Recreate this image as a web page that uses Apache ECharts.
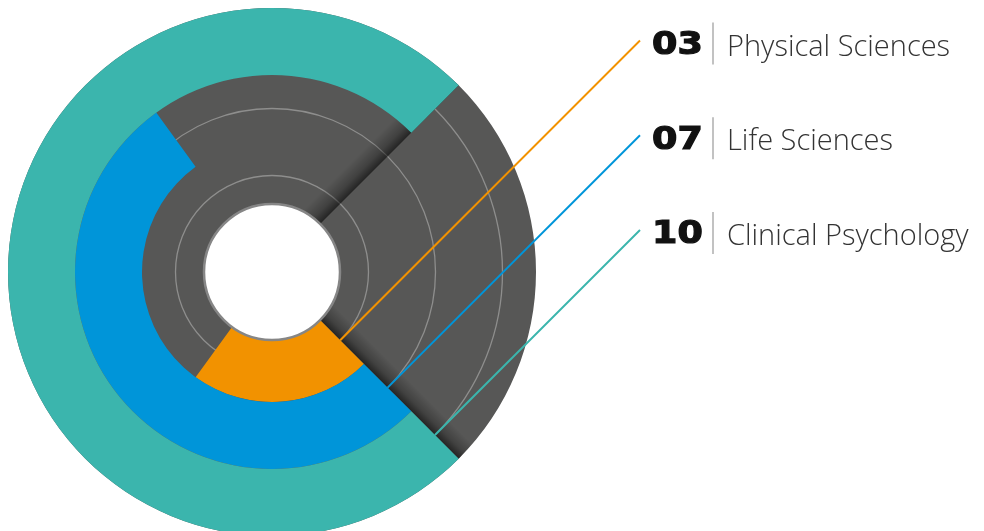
<!DOCTYPE html>
<html><head><meta charset="utf-8">
<script src="https://cdn.jsdelivr.net/npm/echarts@6/dist/echarts.min.js"></script>
<style>html,body{margin:0;padding:0;background:#fff}#c{width:984px;height:531px}</style>
</head><body><div id="c"></div>
<script>
const categories = ['Physical Sciences', 'Life Sciences', 'Clinical Psychology'];
const values = [3, 7, 10];
const numberLabels = ['03', '07', '10'];
const barColors = ['#F29200', '#0095D9', '#3BB5AD'];
const angleMax = 40 / 3;

const GRAY = '#575756';
const HOLE_R = 68;
const LABEL_X = 640;
const chart = echarts.init(document.getElementById('c'), null, {renderer: 'canvas'});

function unit(cx, cy, p) {
  const dx = p[0] - cx, dy = p[1] - cy, L = Math.hypot(dx, dy);
  return [dx / L, dy / L];
}
function strip(cs, u, n, w) {
  const R = cs.r, r0 = cs.r0, cx = cs.cx, cy = cs.cy;
  const rOff = Math.sqrt(R * R - w * w) - 0.5;
  const pts = [
    [cx + u[0] * r0, cy + u[1] * r0],
    [cx + u[0] * R, cy + u[1] * R],
    [cx + u[0] * rOff + n[0] * w, cy + u[1] * rOff + n[1] * w],
    [cx + u[0] * r0 + n[0] * w, cy + u[1] * r0 + n[1] * w]
  ];
  return {
    type: 'polygon', shape: {points: pts},
    style: {fill: new echarts.graphic.LinearGradient(pts[0][0], pts[0][1], pts[3][0], pts[3][1], [
      {offset: 0, color: 'rgba(0,0,0,0.58)'},
      {offset: 0.4, color: 'rgba(0,0,0,0.25)'},
      {offset: 1, color: 'rgba(0,0,0,0)'}], true)}
  };
}

function renderDisc(params, api) {
  const cs = params.coordSys;
  return {type: 'ring', shape: {cx: cs.cx, cy: cs.cy, r: cs.r, r0: cs.r0},
    style: {fill: GRAY}};
}
function renderCircles(params, api) {
  const cs = params.coordSys;
  const p = api.coord([api.value(0), 0]);
  const r = Math.hypot(p[0] - cs.cx, p[1] - cs.cy);
  return {type: 'circle', shape: {cx: cs.cx, cy: cs.cy, r: r},
    style: {fill: 'none', stroke: '#8e8e8d', lineWidth: 1.3}};
}
function renderShadows(params, api) {
  const cs = params.coordSys;
  const maxV = Math.max.apply(null, values);
  const uA = unit(cs.cx, cs.cy, api.coord([0, 0]));
  const uB = unit(cs.cx, cs.cy, api.coord([0, maxV]));
  return {type: 'group', children: [
    strip(cs, uA, [uA[1], -uA[0]], 20),
    strip(cs, uB, [uB[1], -uB[0]], 22)
  ]};
}
function renderHole(params, api) {
  const cs = params.coordSys;
  return {type: 'circle', shape: {cx: cs.cx, cy: cs.cy, r: HOLE_R},
    style: {fill: '#ffffff', stroke: '#868686', lineWidth: 2.5}};
}
function renderLabels(params, api) {
  const cs = params.coordSys, i = params.dataIndex;
  const p = api.coord([i, 0]);
  const u = unit(cs.cx, cs.cy, p);
  const n = [u[1], -u[0]];
  const t = (LABEL_X - p[0]) / n[0];
  const e = [p[0] + n[0] * t, p[1] + n[1] * t];
  return {type: 'group', children: [
    {type: 'line', shape: {x1: p[0], y1: p[1], x2: e[0], y2: e[1]},
      style: {stroke: barColors[i], lineWidth: 2}},
    {type: 'text', x: e[0] + 12, y: e[1] + 5, scaleX: 1.14,
      style: {text: numberLabels[i], fill: '#111', stroke: '#111', lineWidth: 1.2,
        fontSize: 32, fontWeight: 'bold',
        fontFamily: 'DejaVu Sans', align: 'left', verticalAlign: 'middle'}},
    {type: 'line', shape: {x1: e[0] + 73, y1: e[1] - 18, x2: e[0] + 73, y2: e[1] + 24},
      style: {stroke: '#c2c2c2', lineWidth: 2}},
    {type: 'text', x: e[0] + 87, y: e[1] + 7,
      style: {text: categories[i], fill: '#333', fontSize: 29, fontWeight: 300,
        fontFamily: 'Open Sans', align: 'left', verticalAlign: 'middle'}}
  ]};
}

const catData = categories.map((c, i) => [i, 0]);
chart.setOption({
  animation: false,
  polar: {center: [272, 272], radius: [63, 264]},
  angleAxis: {type: 'value', min: 0, max: angleMax, startAngle: -45, clockwise: true, show: false},
  radiusAxis: {type: 'category', data: categories, show: false},
  series: [
    {type: 'custom', coordinateSystem: 'polar', data: [[0, 0]], renderItem: renderDisc, z: 1, silent: true},
    {type: 'custom', coordinateSystem: 'polar', data: catData, renderItem: renderCircles, z: 2, silent: true},
    {type: 'custom', coordinateSystem: 'polar', data: [[0, 0]], renderItem: renderShadows, z: 3, silent: true},
    {type: 'bar', coordinateSystem: 'polar', barCategoryGap: '0%',
      data: values.map((v, i) => ({value: v, itemStyle: {color: barColors[i]}})), z: 4},
    {type: 'custom', coordinateSystem: 'polar', data: [[0, 0]], renderItem: renderHole, z: 5, silent: true},
    {type: 'custom', coordinateSystem: 'polar', data: catData, renderItem: renderLabels, z: 6, silent: true}
  ]
});
</script></body></html>
